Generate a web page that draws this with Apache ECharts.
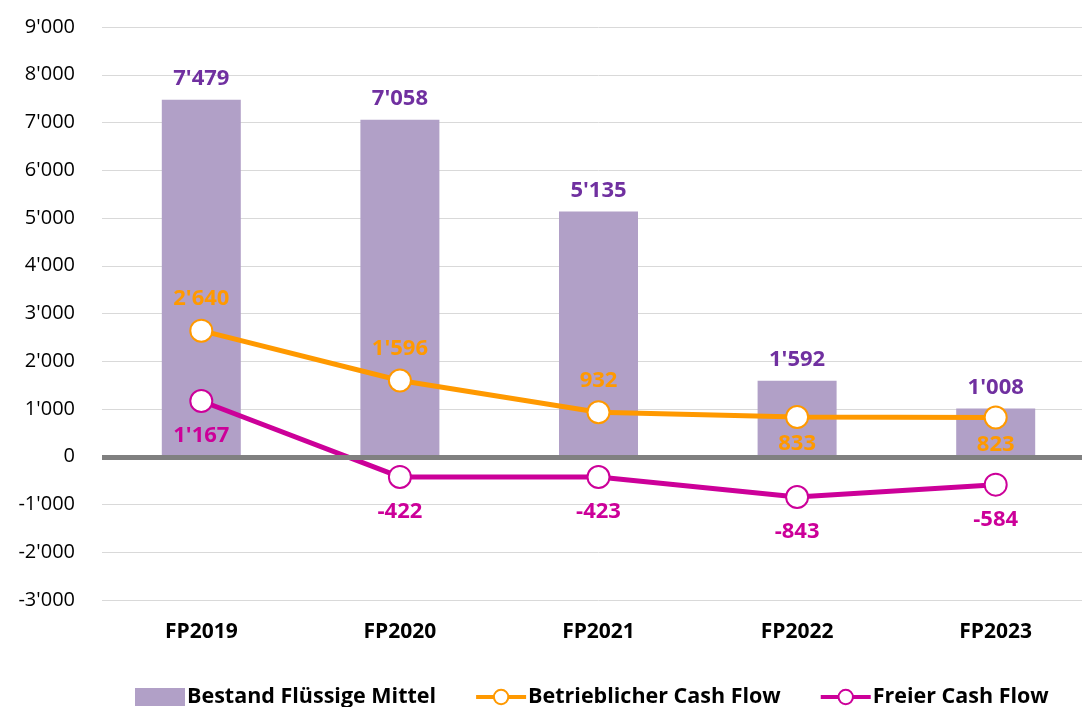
<!DOCTYPE html>
<html>
<head>
<meta charset="utf-8">
<script src="https://cdn.jsdelivr.net/npm/echarts@6/dist/echarts.min.js"></script>
<style>
  html, body { margin: 0; padding: 0; background: #fff; overflow: hidden; }
  #container1 { width: 1100px; height: 707px; }
</style>
</head>
<body>
<div id="container1"></div>
<script>
// Daten
var categories = ['FP2019', 'FP2020', 'FP2021', 'FP2022', 'FP2023'];
var bestand = [7479, 7058, 5135, 1592, 1008];
var betrieblich = [2640, 1596, 932, 833, 823];
var freier = [1167, -422, -423, -843, -584];

var FONT = '"Open Sans", "Noto Sans", sans-serif';

function fmt(v) {
    var neg = v < 0;
    var s = String(Math.abs(Math.round(v)));
    s = s.replace(/\B(?=(\d{3})+(?!\d))/g, "'");
    return (neg ? '-' : '') + s;
}

function Chart1_Init() {
    var myChart = echarts.init(document.getElementById('container1'));

    // orange labels: oben für die ersten drei, unten für die letzten
    var betriebData = betrieblich.map(function (v, i) {
        return {
            value: v,
            label: i < 3 ? { position: 'top', distance: 9 } : { position: 'bottom', distance: 4 }
        };
    });

    var option = {
        animation: false,
        textStyle: { fontFamily: FONT },
        grid: { left: 102, top: 27, width: 993, height: 573 },
        legend: {
            top: 681,
            left: 130,
            itemGap: 38,
            itemWidth: 50,
            itemHeight: 18,
            textStyle: { fontFamily: FONT, fontSize: 21.5, fontWeight: 'bold', color: '#000', padding: [0, 0, 0, -3] },
            data: [
                { name: 'Bestand Flüssige Mittel', icon: 'rect' },
                { name: 'Betrieblicher Cash Flow', lineStyle: { width: 4 } },
                { name: 'Freier Cash Flow', lineStyle: { width: 4 } }
            ]
        },
        xAxis: {
            type: 'category',
            data: categories,
            axisLine: { show: false, onZero: false },
            axisTick: { show: false },
            axisLabel: { fontFamily: FONT, fontSize: 21, fontWeight: 'bold', color: '#000', margin: 22 }
        },
        yAxis: {
            type: 'value',
            min: -3000,
            max: 9000,
            interval: 1000,
            axisLine: { show: false },
            axisTick: { show: false },
            axisLabel: { fontFamily: FONT, fontSize: 20, color: '#000', margin: 27, formatter: fmt },
            splitLine: { lineStyle: { color: '#d9d9d9', width: 1 } }
        },
        series: [
            {
                name: 'Bestand Flüssige Mittel',
                type: 'bar',
                data: bestand,
                barWidth: 79,
                itemStyle: { color: '#b1a0c7' },
                label: {
                    show: true,
                    position: 'top',
                    distance: 10,
                    color: '#7030a0',
                    fontFamily: FONT,
                    fontSize: 22,
                    fontWeight: 'bold',
                    formatter: function (p) { return fmt(p.value); }
                },
                markLine: {
                    silent: true,
                    symbol: ['none', 'none'],
                    label: { show: false },
                    lineStyle: { color: '#808080', width: 5, type: 'solid' },
                    data: [{ yAxis: 0 }]
                },
                z: 1
            },
            {
                name: 'Betrieblicher Cash Flow',
                type: 'line',
                data: betriebData,
                symbol: 'circle',
                symbolSize: 22,
                lineStyle: { color: '#ff9900', width: 5 },
                itemStyle: { color: '#fff', borderColor: '#ff9900', borderWidth: 2 },
                label: {
                    show: true,
                    color: '#ff9900',
                    fontFamily: FONT,
                    fontSize: 22,
                    fontWeight: 'bold',
                    formatter: function (p) { return fmt(p.value); }
                },
                z: 3
            },
            {
                name: 'Freier Cash Flow',
                type: 'line',
                data: freier,
                symbol: 'circle',
                symbolSize: 22,
                lineStyle: { color: '#cc0099', width: 5 },
                itemStyle: { color: '#fff', borderColor: '#cc0099', borderWidth: 2 },
                label: {
                    show: true,
                    position: 'bottom',
                    distance: 12,
                    color: '#cc0099',
                    fontFamily: FONT,
                    fontSize: 22,
                    fontWeight: 'bold',
                    formatter: function (p) { return fmt(p.value); }
                },
                z: 3
            }
        ]
    };
    myChart.setOption(option);
}

Chart1_Init();
</script>
</body>
</html>
